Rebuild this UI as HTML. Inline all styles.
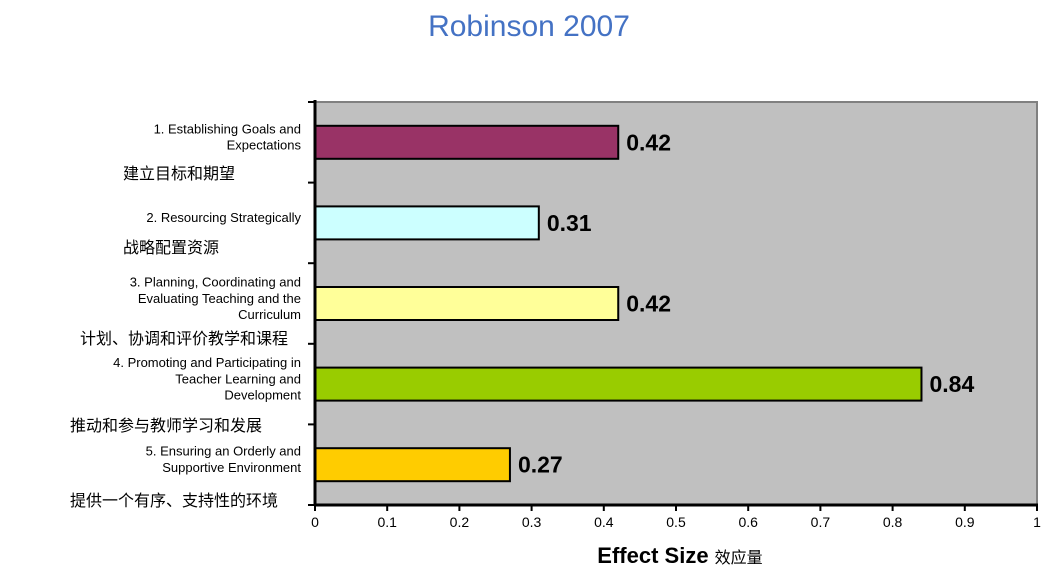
<!DOCTYPE html>
<html><head><meta charset="utf-8"><style>
body{margin:0;background:#fff;width:1062px;height:581px;overflow:hidden;font-family:"Liberation Sans","Noto Sans CJK SC",sans-serif}
</style></head><body>
<svg width="1062" height="581" xmlns="http://www.w3.org/2000/svg">
<text x="529" y="36" text-anchor="middle" font-size="30" fill="#4472C4" font-family="Liberation Sans, sans-serif">Robinson 2007</text>
<rect x="315" y="102" width="722" height="403" fill="#C0C0C0" stroke="#808080" stroke-width="2"/>
<g id="bars"></g>
<g id="axes"></g>
<g id="labels"></g>
<text x="680" y="563" text-anchor="middle" font-size="22" font-weight="bold" fill="#000">Effect Size <tspan font-size="16" font-weight="normal">效应量</tspan></text>
</svg>
<script>
const categories=[["1. Establishing Goals and","Expectations"],["2. Resourcing Strategically"],["3. Planning, Coordinating and","Evaluating Teaching and the","Curriculum"],["4. Promoting and Participating in","Teacher Learning and","Development"],["5. Ensuring an Orderly and","Supportive Environment"]];
const cnLabels=["建立目标和期望","战略配置资源","计划、协调和评价教学和课程","推动和参与教师学习和发展","提供一个有序、支持性的环境"];
const values=[0.42,0.31,0.42,0.84,0.27];
const valueLabels=["0.42","0.31","0.42","0.84","0.27"];
const colors=["#993366","#CCFFFF","#FFFF99","#99CC00","#FFCC00"];
const xTicks=[0,0.1,0.2,0.3,0.4,0.5,0.6,0.7,0.8,0.9,1];
const tickLabels=["0","0.1","0.2","0.3","0.4","0.5","0.6","0.7","0.8","0.9","1"];
const NS="http://www.w3.org/2000/svg";
const X0=315,X1=1037,Y0=102,Y1=505;
const xs=v=>X0+v*(X1-X0);
const band=(Y1-Y0)/values.length;
const yb=i=>Y0+i*band;
function mk(t,a,p){const e=document.createElementNS(NS,t);for(const k in a)e.setAttribute(k,a[k]);p.appendChild(e);return e;}
const gB=document.getElementById('bars'),gA=document.getElementById('axes'),gL=document.getElementById('labels');
values.forEach((v,i)=>{
 const c=yb(i)+band/2;
 const r=mk('rect',{x:X0,y:c-16.5,width:xs(v)-X0,height:33,fill:colors[i],stroke:'#000','stroke-width':2},gB);
 
 
 const t=mk('text',{x:xs(v)+8,y:c+8,'font-size':23,'font-weight':'bold',fill:'#000'},gB);t.textContent=valueLabels[i];
 
 
 const lines=categories[i];
 const startY=c-1-(lines.length-1)*8;
 lines.forEach((s,j)=>{const l=mk('text',{x:301,y:startY+j*16.3,'text-anchor':'end','font-size':13,fill:'#000'},gL);l.textContent=s;
 
 });
 const cn=mk('text',{x:[123,123,80,70,70][i],y:[179,253,344,431,506][i],'font-size':16,fill:'#000'},gL);cn.textContent=cnLabels[i];
 
 
});
mk('line',{x1:X0,y1:Y0-2,x2:X0,y2:Y1,stroke:'#000','stroke-width':3},gA);
mk('line',{x1:X0,y1:Y1,x2:X1+1,y2:Y1,stroke:'#000','stroke-width':3},gA);
for(let i=0;i<=values.length;i++){mk('line',{x1:X0-7,y1:yb(i),x2:X0,y2:yb(i),stroke:'#000','stroke-width':2},gA);}
xTicks.forEach((v,i)=>{mk('line',{x1:xs(v),y1:Y1,x2:xs(v),y2:Y1+6,stroke:'#000','stroke-width':2},gA);
 const t=mk('text',{x:xs(v),y:527,'text-anchor':'middle','font-size':14,fill:'#000'},gA);t.textContent=tickLabels[i];
 
 });
</script>
</body></html>
